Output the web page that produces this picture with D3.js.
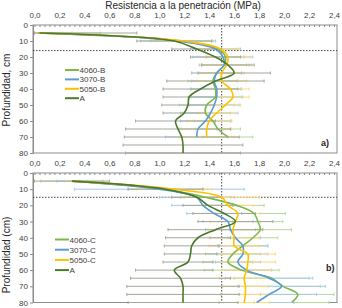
<!DOCTYPE html>
<html lang="es">
<head>
<meta charset="UTF-8">
<title>Resistencia a la penetración</title>
<script src="https://d3js.org/d3.v7.min.js"></script>
<style>
  body { margin: 0; background: #fff; font-family: "Liberation Sans", Arial, sans-serif; }
  svg { display: block; }
  .axis text { font-size: 8px; fill: #404040; font-family: "Liberation Sans", Arial, sans-serif; }
  .axis path, .axis line { stroke: #8c8c8c; }
  .legend text { font-size: 8px; fill: #404040; }
</style>
</head>
<body>
<svg width="342" height="308"></svg>
<script>
// profundidad (cm) de cada lectura
const profundidad = [5, 10, 15, 20, 25, 30, 35, 40, 45, 50, 55, 60, 65, 70, 75, 80];

// panel a) -- serie B
const resA_B    = [0.04, 1.12, 1.30, 1.45, 1.55, 1.60, 1.45, 1.33, 1.24, 1.23, 1.20, 1.13, 1.15, 1.18, 1.19, 1.19];
const res4060_B = [0.03, 1.18, 1.47, 1.53, 1.52, 1.46, 1.43, 1.45, 1.45, 1.38, 1.37, 1.43, 1.47, 1.55];
const res3070_B = [0.03, 1.15, 1.45, 1.51, 1.52, 1.46, 1.44, 1.46, 1.46, 1.44, 1.41, 1.37, 1.31, 1.30];
const res5050_B = [0.03, 1.20, 1.49, 1.55, 1.54, 1.50, 1.50, 1.57, 1.59, 1.53, 1.46, 1.40, 1.38, 1.38];
const sdA_B     = [0.78, 0.30, 0.20, 0.20, 0.21, 0.29, 0.39, 0.30, 0.21, 0.21, 0.17, 0.32, 0.42, 0.46, 0.48, 0.46];
const sd4060_B  = [0.50, 0.25, 0.15, 0.15, 0.18, 0.20, 0.20, 0.20, 0.22, 0.22, 0.20, 0.15, 0.18, 0.20];
const sd3070_B  = [0.27, 0.30, 0.20, 0.24, 0.20, 0.20, 0.18, 0.20, 0.20, 0.20, 0.22, 0.20, 0.15, 0.25];
const sd5050_B  = [0.20, 0.22, 0.15, 0.18, 0.20, 0.18, 0.20, 0.15, 0.13, 0.12, 0.15, 0.18, 0.20, 0.22];

// panel b) -- serie C
const resA_C    = [0.30, 1.05, 1.30, 1.39, 1.52, 1.61, 1.45, 1.31, 1.26, 1.25, 1.23, 1.12, 1.17, 1.19, 1.19, 1.19];
const res4060_C = [0.30, 1.05, 1.37, 1.62, 1.76, 1.79, 1.81, 1.75, 1.67, 1.59, 1.55, 1.66, 1.90, 1.99, 2.11, 2.06];
const res3070_C = [0.30, 1.00, 1.30, 1.35, 1.44, 1.55, 1.57, 1.61, 1.67, 1.67, 1.63, 1.70, 1.88, 1.98, 1.88, 1.78];
const res5050_C = [0.30, 1.12, 1.50, 1.55, 1.63, 1.61, 1.59, 1.60, 1.60, 1.71, 1.71, 1.70, 1.68, 1.69, 1.69, 1.68];
const sdA_C     = [0.30, 0.30, 0.20, 0.20, 0.25, 0.30, 0.38, 0.26, 0.22, 0.21, 0.20, 0.31, 0.40, 0.45, 0.45, 0.44];
const sd4060_C  = [0.25, 0.30, 0.20, 0.22, 0.25, 0.20, 0.25, 0.20, 0.20, 0.22, 0.20, 0.30, 0.30, 0.30, 0.30, 0.30];
const sd3070_C  = [0.12, 0.68, 0.30, 0.25, 0.22, 0.20, 0.20, 0.20, 0.20, 0.20, 0.18, 0.20, 0.35, 0.35, 0.38, 0.30];
const sd5050_C  = [0.06, 0.30, 0.30, 0.20, 0.18, 0.20, 0.20, 0.20, 0.20, 0.22, 0.22, 0.20, 0.20, 0.18, 0.20, 0.20];

// límites de referencia
const umbralMPa = 1.5;
const capaB = 16;
const capaC = 15;

const xTicks = d3.range(0, 2.41, 0.2);
const yTicks = [0, 10, 20, 30, 40, 50, 60, 70, 80];

const colores = {
  "4060": { line: "#7cb84a", bar: "#b7d99a" },
  "3070": { line: "#5b9bd5", bar: "#a9c9ea" },
  "5050": { line: "#ffc000", bar: "#ffd97a" },
  "A":    { line: "#4b7a2c", bar: "#a3a89c" }
};

function serie(nombre, key, vals, sd) {
  return { nombre, color: colores[key], pts: vals.map((v, i) => ({ d: profundidad[i], v, sd: sd[i] })) };
}

const panels = [
  {
    top: 25, bottom: 153, ylabel: "Profundidad, cm", labelY: 90, capa: capaB,
    legendX: 65, legendY: 70, legendStep: 9.4, tag: "a)", tagX: 321, tagY: 146,
    series: [
      serie("4060-B", "4060", res4060_B, sd4060_B),
      serie("3070-B", "3070", res3070_B, sd3070_B),
      serie("5050-B", "5050", res5050_B, sd5050_B),
      serie("A", "A", resA_B, sdA_B)
    ]
  },
  {
    top: 173, bottom: 302.5, ylabel: "Profundidad (cm)", labelY: 255, capa: capaC,
    legendX: 55, legendY: 239.5, legendStep: 10.2, tag: "b)", tagX: 326, tagY: 271,
    series: [
      serie("4060-C", "4060", res4060_C, sd4060_C),
      serie("3070-C", "3070", res3070_C, sd3070_C),
      serie("5050-C", "5050", res5050_C, sd5050_C),
      serie("A", "A", resA_C, sdA_C)
    ]
  }
];

const svg = d3.select("svg");
const left = 33, right = 337;
const x = d3.scaleLinear().domain([0, 2.4]).range([34.5, 334]).clamp(true);
const fmt = d => d3.format(".1f")(d).replace(".", ",");

svg.append("text")
  .attr("x", 183).attr("y", 8.5)
  .attr("text-anchor", "middle")
  .style("font-size", "10px").style("fill", "#262626")
  .text("Resistencia a la penetración (MPa)");

panels.forEach(p => {
  const y = d3.scaleLinear().domain([0, 80]).range([p.top, p.bottom]);
  const g = svg.append("g");

  // marco
  g.append("rect")
    .attr("x", left).attr("y", p.top)
    .attr("width", right - left).attr("height", p.bottom - p.top)
    .attr("fill", "none").attr("stroke", "#8c8c8c");

  // eje superior
  g.append("g").attr("class", "axis")
    .attr("transform", `translate(0,${p.top})`)
    .call(d3.axisTop(x).tickValues(d3.range(0, 2.401, 0.04)).tickSize(-2).tickFormat(""))
    .call(s => s.select(".domain").remove());
  g.append("g").attr("class", "axis")
    .attr("transform", `translate(0,${p.top})`)
    .call(d3.axisTop(x).tickValues(xTicks).tickSize(0).tickPadding(7).tickFormat(fmt))
    .call(s => s.select(".domain").remove());

  // eje izquierdo
  g.append("g").attr("class", "axis")
    .attr("transform", `translate(${left},0)`)
    .call(d3.axisLeft(y).tickValues(yTicks).tickSize(3).tickPadding(2).tickSizeOuter(0));

  // líneas punteadas de referencia
  g.append("line")
    .attr("x1", x(umbralMPa)).attr("x2", x(umbralMPa))
    .attr("y1", p.top).attr("y2", p.bottom)
    .attr("stroke", "#444").attr("stroke-dasharray", "1.5,1.5");
  g.append("line")
    .attr("x1", left).attr("x2", right)
    .attr("y1", y(p.capa)).attr("y2", y(p.capa))
    .attr("stroke", "#444").attr("stroke-dasharray", "1.5,1.5");

  // barras de error
  p.series.forEach(s => {
    const eb = g.append("g").attr("stroke", s.color.bar).attr("stroke-width", 1);
    s.pts.forEach(pt => {
      const x0 = x(pt.v - pt.sd), x1 = x(pt.v + pt.sd), yy = y(pt.d);
      eb.append("line").attr("x1", x0).attr("x2", x1).attr("y1", yy).attr("y2", yy);
      eb.append("line").attr("x1", x0).attr("x2", x0).attr("y1", yy - 1.5).attr("y2", yy + 1.5);
      eb.append("line").attr("x1", x1).attr("x2", x1).attr("y1", yy - 1.5).attr("y2", yy + 1.5);
    });
  });

  // curvas
  const line = d3.line().x(d => x(d.v)).y(d => y(d.d)).curve(d3.curveCatmullRom.alpha(0.5));
  p.series.forEach(s => {
    g.append("path")
      .datum(s.pts)
      .attr("d", line)
      .attr("fill", "none")
      .attr("stroke", s.color.line)
      .attr("stroke-width", 1.6);
  });

  // etiqueta eje y
  svg.append("text")
    .attr("transform", `translate(10,${p.labelY}) rotate(-90)`)
    .attr("text-anchor", "middle")
    .style("font-size", "10px").style("fill", "#262626")
    .text(p.ylabel);

  // leyenda
  const lg = svg.append("g").attr("class", "legend");
  p.series.forEach((s, i) => {
    const ly = p.legendY + i * p.legendStep;
    lg.append("line")
      .attr("x1", p.legendX).attr("x2", p.legendX + 14)
      .attr("y1", ly).attr("y2", ly)
      .attr("stroke", s.color.line).attr("stroke-width", 2);
    lg.append("text")
      .attr("x", p.legendX + 14.5).attr("y", ly + 3)
      .text(s.nombre);
  });

  svg.append("text")
    .attr("x", p.tagX).attr("y", p.tagY)
    .style("font-size", "9px").style("font-weight", "bold").style("fill", "#262626")
    .text(p.tag);
});
</script>
</body>
</html>
